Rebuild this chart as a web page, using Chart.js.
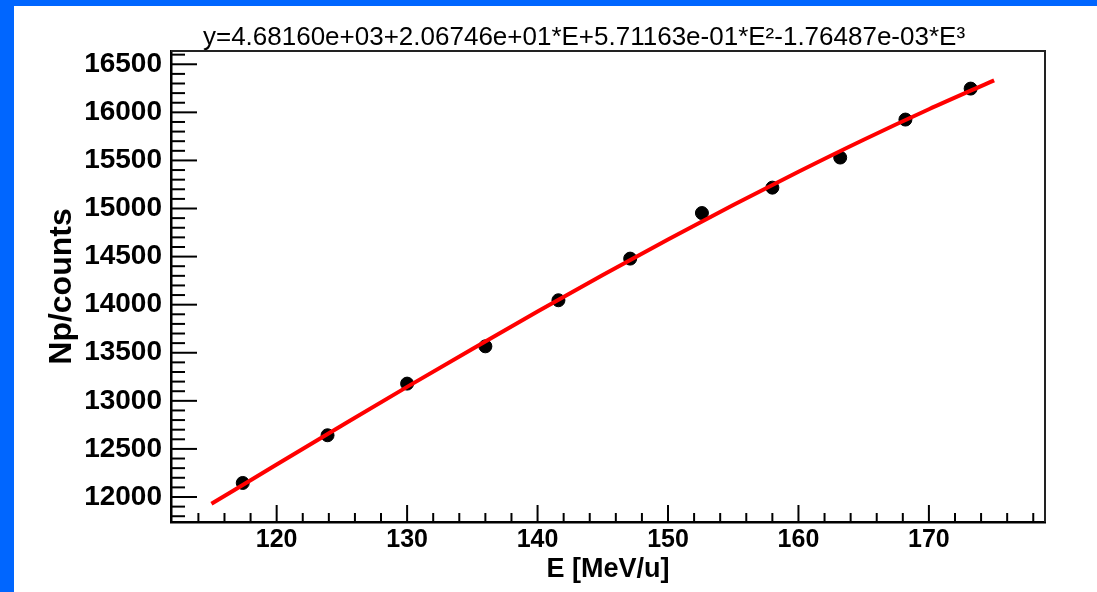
<!DOCTYPE html>
<html><head><meta charset="utf-8">
<script src="https://cdn.jsdelivr.net/npm/chart.js@4.4.1/dist/chart.umd.min.js"></script>
<style>
html,body{margin:0;padding:0;width:1097px;height:592px;overflow:hidden;background:#0066ff;}
#wrap{position:absolute;left:14px;top:6px;width:1140px;height:586px;background:#fff;}
canvas{display:block;}
</style></head><body>
<div id="wrap"><canvas id="c" width="1140" height="586"></canvas></div>
<script>
// measured points
const energies = [117.4, 123.9, 130.0, 136.0, 141.6, 147.1, 152.6, 158.0, 163.2, 168.2, 173.2];
const counts   = [12146, 12642, 13179, 13567, 14046, 14479, 14953, 15217, 15530, 15925, 16247];
// fit curve
const fitEnergies = [115, 120, 125, 130, 135, 140, 145, 150, 155, 160, 165, 170, 175];
const fitCounts   = [11929, 12338, 12743, 13145, 13540, 13928, 14308, 14678, 15036, 15382, 15715, 16032, 16333];
// axes
const xTickLabels = [120, 130, 140, 150, 160, 170];
const yTickLabels = [12000, 12500, 13000, 13500, 14000, 14500, 15000, 15500, 16000, 16500];
const xRange = [111.9, 178.9];
const yRange = [11740, 16638];
const xMinorStep = 2;
const yMinorStep = 100;
const titleText = 'y=4.68160e+03+2.06746e+01*E+5.71163e-01*E\u00B2-1.76487e-03*E\u00B3';
const xTitle = 'E [MeV/u]';
const yTitle = 'Np/counts';

const FONT = '"Liberation Sans", Arial, Helvetica, sans-serif';

const innerTicks = {
  id: 'innerTicks',
  afterDatasetsDraw(chart) {
    const {ctx, chartArea: a, scales: {x, y}} = chart;
    ctx.save();
    ctx.strokeStyle = '#000';
    ctx.lineWidth = 2;
    for (let v = Math.ceil(y.min / yMinorStep) * yMinorStep; v <= y.max; v += yMinorStep) {
      const py = y.getPixelForValue(v);
      if (a.bottom - py < 3) continue;
      const major = yTickLabels.includes(v);
      ctx.beginPath(); ctx.moveTo(a.left, py); ctx.lineTo(a.left + (major ? 26 : 14), py); ctx.stroke();
    }
    for (let v = Math.ceil(x.min / xMinorStep) * xMinorStep; v <= x.max; v += xMinorStep) {
      const px = x.getPixelForValue(v);
      if (px - a.left < 3) continue;
      const major = xTickLabels.includes(v);
      ctx.beginPath(); ctx.moveTo(px, a.bottom); ctx.lineTo(px, a.bottom - (major ? 17 : 9)); ctx.stroke();
    }
    ctx.strokeStyle = '#222';
    ctx.lineWidth = 2;
    ctx.beginPath();
    ctx.moveTo(a.left, a.top); ctx.lineTo(a.right, a.top); ctx.lineTo(a.right, a.bottom);
    ctx.stroke();
    ctx.restore();
  }
};

new Chart(document.getElementById('c'), {
  type: 'scatter',
  data: {
    datasets: [
      {
        type: 'line',
        label: 'fit',
        data: fitEnergies.map((e, i) => ({x: e, y: fitCounts[i]})),
        borderColor: '#ff0000',
        borderWidth: 4,
        pointRadius: 0,
        cubicInterpolationMode: 'monotone',
        fill: false,
        order: 0
      },
      {
        label: 'data',
        data: energies.map((e, i) => ({x: e, y: counts[i]})),
        backgroundColor: '#000',
        borderColor: '#000',
        pointRadius: 6.5,
        order: 1
      }
    ]
  },
  options: {
    responsive: false,
    animation: false,
    devicePixelRatio: 1,
    layout: {padding: 0},
    plugins: {
      legend: {display: false},
      tooltip: {enabled: false},
      title: {
        display: true,
        text: titleText,
        color: '#000',
        font: {family: FONT, size: 26, weight: 'normal', lineHeight: 1},
        padding: {top: 18.5, bottom: 0.5}
      }
    },
    scales: {
      x: {
        type: 'linear',
        position: 'bottom',
        min: xRange[0], max: xRange[1],
        afterBuildTicks: s => { s.ticks = xTickLabels.map(v => ({value: v})); },
        afterFit: s => { s.height = 70; },
        grid: {display: false, drawTicks: false},
        border: {display: true, color: '#000', width: 2.5},
        ticks: {color: '#000', padding: 3, font: {family: FONT, size: 25, weight: 'bold'}, callback: v => String(v)},
        title: {display: true, text: xTitle, color: '#000', font: {family: FONT, size: 27, weight: 'bold'}, padding: {top: 0, bottom: 5.8}}
      },
      y: {
        type: 'linear',
        position: 'left',
        min: yRange[0], max: yRange[1],
        afterBuildTicks: s => { s.ticks = yTickLabels.map(v => ({value: v})); },
        afterFit: s => { s.width = 157; },
        grid: {display: false, drawTicks: false},
        border: {display: true, color: '#000', width: 2.5},
        ticks: {color: '#000', padding: 9, font: {family: FONT, size: 28, weight: 'bold'}, callback: v => String(v)},
        title: {display: true, text: yTitle, color: '#000', font: {family: FONT, size: 32, weight: 'bold'}, padding: {top: 28.8, bottom: 0}}
      },
      yRightSpace: {
        type: 'linear',
        position: 'right',
        display: true,
        afterFit: s => { s.width = 109; },
        grid: {display: false, drawTicks: false},
        border: {display: false},
        ticks: {display: false}
      }
    }
  },
  plugins: [innerTicks]
});
</script>
</body></html>
